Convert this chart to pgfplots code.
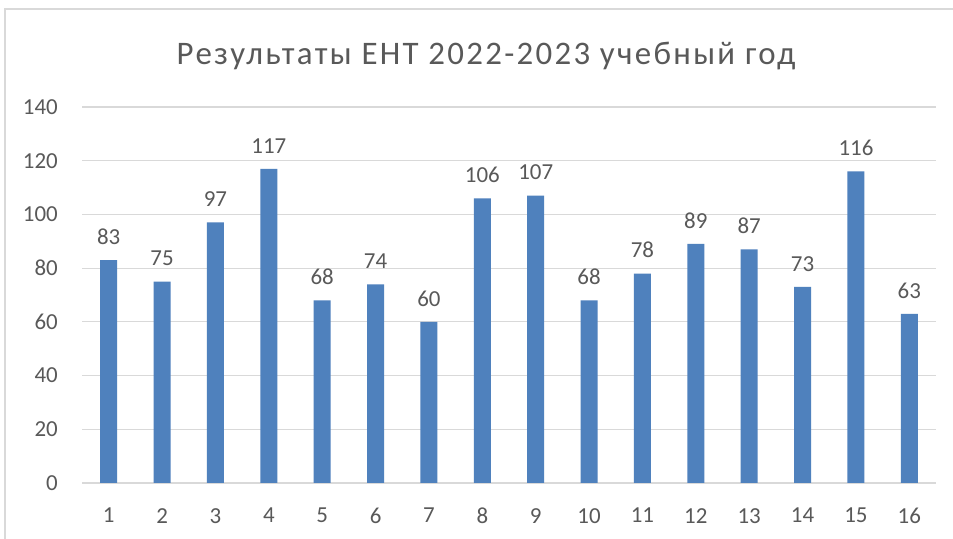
\documentclass[border=0pt]{standalone}
\usepackage{fontspec}
\setmainfont{Carlito}
\newfontfamily\titlefont[LetterSpace=7]{Carlito}
\usepackage{pgfplots}
\pgfplotsset{compat=1.18}

\definecolor{barblue}{HTML}{4F81BD}
\definecolor{txtgray}{HTML}{595959}
\definecolor{gridgray}{HTML}{D9D9D9}

\begin{document}
\begin{tikzpicture}
\useasboundingbox (0,0) rectangle (953bp,539bp);
\fill[white] (0,0) rectangle (953bp,539bp);
% chart frame (cut off at right and bottom)
\draw[gridgray, line width=1.2bp] (5bp,-10bp) -- (5bp,530bp) -- (970bp,530bp);
\begin{axis}[
    at={(82bp,56bp)}, anchor=origin,
    scale only axis,
    width=854bp, height=376bp,
    xmin=0.5, xmax=16.5,
    ymin=0, ymax=140,
    xtick={1,...,16},
    ytick={0,20,...,140},
    ymajorgrids,
    grid style={gridgray, line width=1.2bp},
    axis line style={draw=none},
    major tick length=0pt,
    /pgf/number format/assume math mode=true,
    tick label style={font=\fontsize{23}{27}\selectfont, text=txtgray},
    yticklabel style={inner sep=0pt, xshift=-24bp},
    xticklabel style={inner sep=0pt, yshift=-25bp},
    title={Результаты ЕНТ 2022-2023 учебный год},
    title style={font=\titlefont\fontsize{33}{38}\selectfont, text=txtgray,
        at={(axis description cs:0.5,1)}, anchor=center, yshift=45bp, xshift=-23bp},
    nodes near coords,
    every node near coord/.append style={font=\fontsize{23}{27}\selectfont, text=txtgray,
        /pgf/number format/assume math mode=true, yshift=12bp},
]
\addplot[ybar, bar width=17bp, fill=barblue, draw=none] coordinates {
(1,83) (2,75) (3,97) (4,117) (5,68) (6,74) (7,60) (8,106)
(9,107) (10,68) (11,78) (12,89) (13,87) (14,73) (15,116) (16,63)
};
\end{axis}
\end{tikzpicture}
\end{document}
